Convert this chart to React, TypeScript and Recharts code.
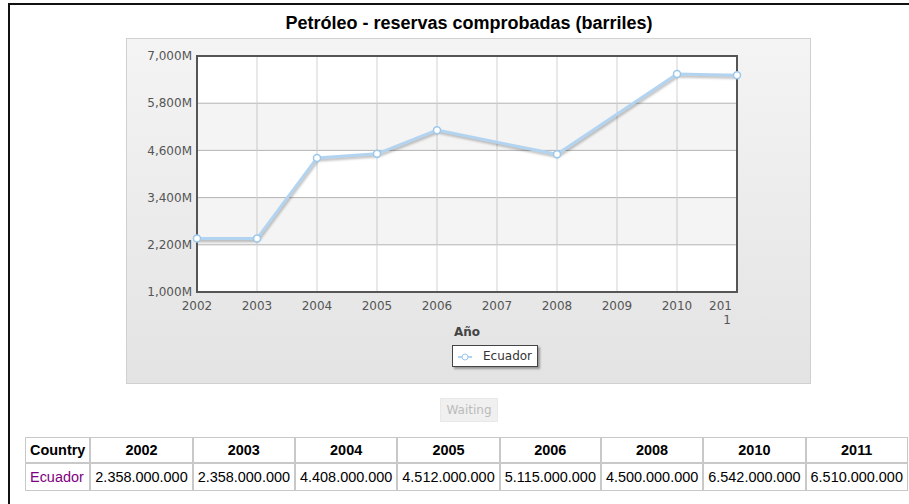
import React from 'react';
import {
  LineChart,
  Line,
  XAxis,
  YAxis,
  CartesianGrid,
  Legend,
  ReferenceArea,
} from 'recharts';

// Values (barrels)
const years = [2002, 2003, 2004, 2005, 2006, 2008, 2010, 2011];
const reserves = [
  2358000000, 2358000000, 4408000000, 4512000000, 5115000000, 4500000000, 6542000000,
  6510000000,
];
const seriesName = 'Ecuador';
const yearTicks = [2002, 2003, 2004, 2005, 2006, 2007, 2008, 2009, 2010, 2011];
const valueTicks = [1000, 2200, 3400, 4600, 5800, 7000];
// the plot background alternates white / light grey between gridlines
const shadedBands = [
  [4600, 5800],
  [2200, 3400],
];

const chartData = years.map((year, i) => ({ year, value: reserves[i] / 1e6 }));

const axisFont = '"DejaVu Sans", Verdana, sans-serif';

const formatMillions = (v: number) => `${v.toLocaleString('en-US')}M`;
const formatBarrels = (v: number) => v.toLocaleString('de-DE');

const YearTick = (props: any) => {
  const { x, y, payload, index } = props;
  const last = index === yearTicks.length - 1;
  if (last) {
    // the last label gets wrapped in the original
    const label = String(payload.value);
    return (
      <text x={x - 5} y={y} fill="#555" fontSize={12} fontFamily={axisFont} textAnchor="end">
        <tspan x={x - 5} dy={18}>{label.slice(0, 3)}</tspan>
        <tspan x={x - 6} dy={14}>{label.slice(3)}</tspan>
      </text>
    );
  }
  return (
    <text x={x} y={y} dy={18} fill="#555" fontSize={12} fontFamily={axisFont} textAnchor="middle">
      {payload.value}
    </text>
  );
};

const LegendBox = () => (
  <div
    style={{
      width: 84,
      height: 20,
      background: '#fff',
      border: '1px solid #444',
      boxShadow: '2px 2px 2px rgba(0,0,0,0.35)',
      display: 'flex',
      alignItems: 'center',
      fontFamily: axisFont,
      fontSize: 12,
      color: '#333',
    }}
  >
    <svg width={30} height={20}>
      <line x1={5} y1={11} x2={19} y2={11} stroke="#b3d4f0" strokeWidth={2} />
      <circle cx={12} cy={11} r={3} fill="#fff" stroke="#9cc8ec" strokeWidth={1} />
    </svg>
    <span>{seriesName}</span>
  </div>
);

const cell: React.CSSProperties = {
  border: '1px solid #c8c8c8',
  padding: '4px 4px',
  whiteSpace: 'nowrap',
};

export default function App() {
  return (
    <div
      style={{
        position: 'absolute',
        left: 0,
        top: 0,
        width: 909,
        height: 504,
        overflow: 'hidden',
        background: '#fff',
      }}
    >
      <style>{`.recharts-line-curve { filter: drop-shadow(1px 2px 1px rgba(0,0,0,0.25)); }`}</style>
      {/* page frame */}
      <div
        style={{
          position: 'absolute',
          left: 8,
          top: 3,
          width: 1000,
          height: 600,
          borderTop: '2px solid #111',
          borderLeft: '2px solid #111',
        }}
      />
      <div
        style={{
          position: 'absolute',
          left: 0,
          top: 13,
          width: 938,
          textAlign: 'center',
          fontFamily: '"Liberation Sans", Arial, sans-serif',
          fontWeight: 'bold',
          fontSize: 18,
          lineHeight: '20px',
          color: '#000',
        }}
      >
        Petróleo - reservas comprobadas (barriles)
      </div>
      {/* chart panel */}
      <div
        style={{
          position: 'absolute',
          left: 126,
          top: 38,
          width: 683,
          height: 344,
          border: '1px solid #d0d0d0',
          background: 'linear-gradient(to bottom, #f4f4f4 0%, #e3e3e3 100%)',
        }}
      />
      <div style={{ position: 'absolute', left: 127, top: 38 }}>
        <LineChart
          width={683}
          height={345}
          data={chartData}
          margin={{ top: 18, right: 73, left: 10, bottom: 45 }}
        >
          <CartesianGrid
            vertical={false}
            stroke="#b8b8b8"
            fill="#ffffff"
            fillOpacity={1}
          />
          <CartesianGrid horizontal={false} stroke="#d2d2d2" />
          <XAxis
            dataKey="year"
            type="number"
            domain={[2002, 2011]}
            ticks={yearTicks}
            interval={0}
            axisLine={false}
            tickLine={false}
            tickSize={0}
            tickMargin={0}
            height={46}
            tick={<YearTick />}
            label={{
              value: 'Año',
              position: 'insideBottom',
              offset: 2,
              fill: '#444',
              fontSize: 12,
              fontWeight: 'bold',
              fontFamily: axisFont,
            }}
          />
          <YAxis
            type="number"
            domain={[1000, 7000]}
            ticks={valueTicks}
            interval={0}
            width={60}
            axisLine={false}
            tickLine={false}
            tickSize={0}
            tickMargin={5}
            tickFormatter={formatMillions}
            tick={{ fill: '#555', fontSize: 12, fontFamily: axisFont }}
          />
          {shadedBands.map(([lo, hi]) => (
            <ReferenceArea
              key={lo}
              y1={lo}
              y2={hi}
              fill="#000"
              fillOpacity={0.045}
              stroke="none"
            />
          ))}
          <ReferenceArea
            x1={2002}
            x2={2011}
            y1={1000}
            y2={7000}
            fill="none"
            stroke="#555"
            strokeWidth={2}
          />
          <Line
            type="linear"
            dataKey="value"
            name={seriesName}
            stroke="#b3d4f0"
            strokeWidth={3}
            dot={{ r: 3.5, fill: '#fff', stroke: '#9cc8ec', strokeWidth: 1.5 }}
            activeDot={false}
            isAnimationActive={false}
          />
          <Legend
            layout="horizontal"
            verticalAlign="middle"
            align="center"
            content={<LegendBox />}
            wrapperStyle={{ position: 'absolute', left: 325, top: 307, width: 86 }}
          />
        </LineChart>
      </div>
      {/* disabled button under the chart */}
      <div
        style={{
          position: 'absolute',
          left: 440,
          top: 398,
          width: 58,
          height: 24,
          boxSizing: 'border-box',
          background: '#f0f0f0',
          border: '1px solid #e8e8e8',
          color: '#bbb',
          fontFamily: axisFont,
          fontSize: 12,
          lineHeight: '22px',
          textAlign: 'center',
        }}
      >
        Waiting
      </div>
      <table
        style={{
          position: 'absolute',
          left: 25,
          top: 437,
          borderCollapse: 'separate',
          borderSpacing: 0,
          fontFamily: '"Liberation Sans", Arial, sans-serif',
          fontSize: 14.45,
          width: 'max-content',
        }}
      >
        <thead>
          <tr>
            <th style={{ ...cell, textAlign: 'left' }}>Country</th>
            {years.map((y) => (
              <th key={y} style={{ ...cell, textAlign: 'center' }}>
                {y}
              </th>
            ))}
          </tr>
        </thead>
        <tbody>
          <tr>
            <td style={{ ...cell, color: '#800080', paddingTop: 5, paddingBottom: 5 }}>
              {seriesName}
            </td>
            {reserves.map((v, i) => (
              <td key={years[i]} style={{ ...cell, paddingTop: 5, paddingBottom: 5 }}>
                {formatBarrels(v)}
              </td>
            ))}
          </tr>
        </tbody>
      </table>
    </div>
  );
}
